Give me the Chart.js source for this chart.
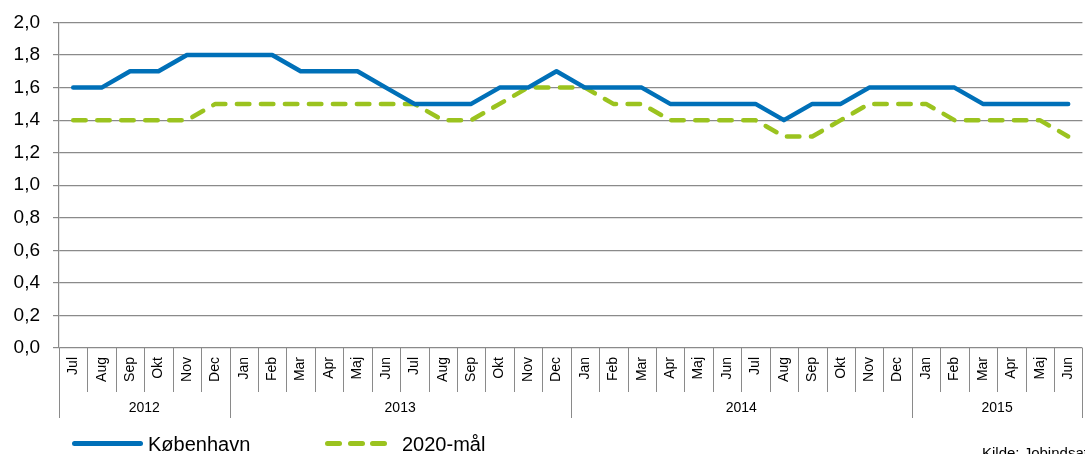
<!DOCTYPE html>
<html>
<head>
<meta charset="utf-8">
<script src="https://cdn.jsdelivr.net/npm/chart.js@4/dist/chart.umd.min.js"></script>
<style>
  body { margin: 0; overflow: hidden; background: #fff; font-family: "Liberation Sans", Arial, sans-serif; }
  #wrap { position: relative; width: 1094px; height: 454px; }
  .leg { position: absolute; font-size: 20px; color: #000; line-height: 20px; }
  .bar { position: absolute; height: 5px; border-radius: 3px; }
  #kilde { position: absolute; left: 982px; top: 445px; font-size: 15px; line-height: 15px; white-space: nowrap; }
</style>
</head>
<body>
<div id="wrap">
  <canvas id="myChart" width="1094" height="454"></canvas>
  <div class="bar" style="left:72px;top:441px;width:71px;background:#0070B8"></div>
  <div class="leg" style="left:148px;top:434px">København</div>
  <div class="bar" style="left:325px;top:441px;width:17px;background:#9BC31F"></div>
  <div class="bar" style="left:348px;top:441px;width:17px;background:#9BC31F"></div>
  <div class="bar" style="left:370px;top:441px;width:17px;background:#9BC31F"></div>
  <div class="leg" style="left:402px;top:434px">2020-mål</div>
  <div id="kilde">Kilde: Jobindsats.dk</div>
</div>
<script>
// months Jul 2012 - Jun 2015
var months = ['Jul','Aug','Sep','Okt','Nov','Dec',
  'Jan','Feb','Mar','Apr','Maj','Jun','Jul','Aug','Sep','Okt','Nov','Dec',
  'Jan','Feb','Mar','Apr','Maj','Jun','Jul','Aug','Sep','Okt','Nov','Dec',
  'Jan','Feb','Mar','Apr','Maj','Jun'];
var yearLabels = ['2012','2013','2014','2015'];
var yearLengths = [6, 12, 12, 6];

var kobenhavn = [1.6,1.6,1.7,1.7,1.8,1.8,
  1.8,1.8,1.7,1.7,1.7,1.6,1.5,1.5,1.5,1.6,1.6,1.7,
  1.6,1.6,1.6,1.5,1.5,1.5,1.5,1.4,1.5,1.5,1.6,1.6,
  1.6,1.6,1.5,1.5,1.5,1.5];
var maal2020 = [1.4,1.4,1.4,1.4,1.4,1.5,
  1.5,1.5,1.5,1.5,1.5,1.5,1.5,1.4,1.4,1.5,1.6,1.6,
  1.6,1.5,1.5,1.4,1.4,1.4,1.4,1.3,1.3,1.4,1.5,1.5,
  1.5,1.4,1.4,1.4,1.4,1.3];

var gridColor = '#8A8A8A';
var fontFam = '"Liberation Sans", Arial, sans-serif';

// separators + year row below the month labels
var yearAxis = {
  id: 'yearAxis',
  afterDraw: function(chart) {
    var ctx = chart.ctx;
    var area = chart.chartArea;
    var w = (area.right - area.left) / months.length;
    ctx.save();
    ctx.strokeStyle = gridColor;
    ctx.lineWidth = 1;
    var starts = [0];
    yearLengths.forEach(function(n, i) { starts.push(starts[i] + n); });
    for (var i = 0; i <= months.length; i++) {
      var x = Math.round(area.left + i * w) + 0.5;
      var isYear = starts.indexOf(i) >= 0;
      ctx.beginPath();
      ctx.moveTo(x, area.bottom);
      ctx.lineTo(x, isYear ? 418 : 392);
      ctx.stroke();
    }
    ctx.fillStyle = '#000';
    ctx.font = '14px ' + fontFam;
    ctx.textAlign = 'center';
    ctx.textBaseline = 'middle';
    yearLabels.forEach(function(y, i) {
      var x = area.left + (starts[i] + yearLengths[i] / 2) * w;
      ctx.fillText(y, x, 408);
    });
    ctx.restore();
  }
};

new Chart('myChart', {
  type: 'line',
  data: {
    labels: months,
    datasets: [{
      label: 'København',
      data: kobenhavn,
      borderColor: '#0070B8',
      borderWidth: 4.5,
      pointRadius: 0,
      tension: 0,
      borderCapStyle: 'round',
      borderJoinStyle: 'round'
    }, {
      label: '2020-mål',
      data: maal2020,
      borderColor: '#9BC31F',
      borderWidth: 4.5,
      borderDash: [12.5, 11.5],
      borderCapStyle: 'round',
      borderJoinStyle: 'round',
      pointRadius: 0,
      tension: 0
    }]
  },
  options: {
    responsive: false,
    animation: false,
    layout: { padding: { top: 10, right: 1, left: 0, bottom: 0 } },
    plugins: { legend: { display: false }, tooltip: { enabled: false } },
    scales: {
      x: {
        offset: true,
        grid: { display: false, drawTicks: false },
        border: { display: false },
        ticks: {
          autoSkip: false,
          minRotation: 90,
          maxRotation: 90,
          padding: 9,
          color: '#000',
          font: { size: 14, family: fontFam }
        },
        afterFit: function(s) { s.height = 106; }
      },
      y: {
        min: 0,
        max: 2,
        grid: { color: gridColor, lineWidth: 1.2, tickLength: 6 },
        border: { color: gridColor, width: 1.2 },
        ticks: {
          stepSize: 0.2,
          padding: 13,
          color: '#000',
          font: { size: 19, family: fontFam, lineHeight: 1.0 },
          callback: function(v) { return v.toFixed(1).replace('.', ','); }
        },
        afterFit: function(s) { s.width = 59; }
      }
    }
  },
  plugins: [yearAxis]
});
</script>
</body>
</html>
